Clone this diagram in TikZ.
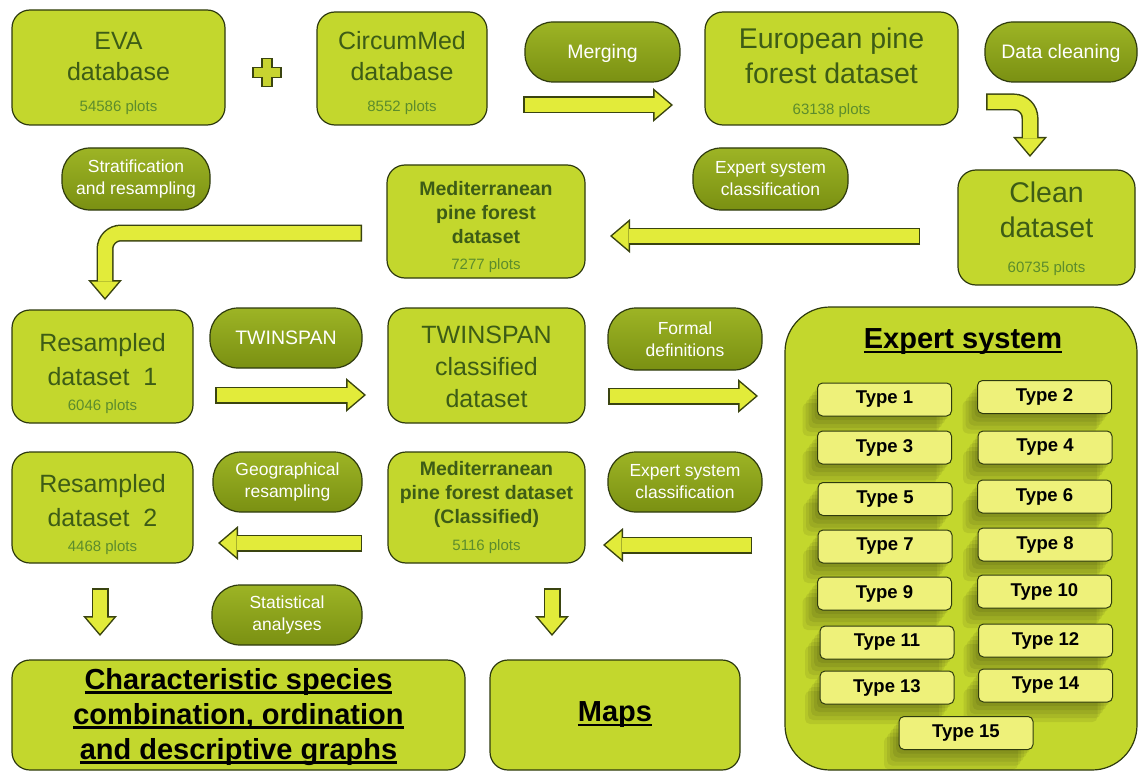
\documentclass[tikz,border=0pt]{standalone}
\usepackage{fontspec}
\setmainfont{Liberation Sans}
\usetikzlibrary{arrows.meta}
\definecolor{boxfill}{HTML}{C3D72D}
\definecolor{boxedge}{HTML}{2E3A0E}
\definecolor{pilltop}{HTML}{9DB425}
\definecolor{pillbot}{HTML}{7A9012}
\definecolor{arrowfill}{HTML}{E2EB3A}
\definecolor{arrowedge}{HTML}{3A4410}
\definecolor{typefill}{HTML}{EEF17A}
\definecolor{textgreen}{HTML}{3D5C16}
\definecolor{plotgreen}{HTML}{5C8C2C}
\newcommand{\BOXBIG}{\fontsize{25}{31}\selectfont}
\newcommand{\BOXTALL}{\fontsize{25}{34}\selectfont}
\newcommand{\BOXHUGE}{\fontsize{28.5}{35}\selectfont}
\newcommand{\BOXBOLD}{\fontsize{19.5}{24}\selectfont\bfseries}
\newcommand{\PILLBIG}{\fontsize{19.5}{22}\selectfont}
\newcommand{\PILLSMALL}{\fontsize{17.5}{22}\selectfont}
\newcommand{\TYPEFONT}{\fontsize{18.5}{22}\selectfont\bfseries}
\newcommand{\TITLEFONT}{\fontsize{29}{35}\selectfont\bfseries}
\newcommand{\PLOTS}[1]{{\fontsize{15}{18}\selectfont\mdseries\color{plotgreen}#1}}
\newcommand{\TOPGAP}[1]{\rule{0pt}{\dimexpr\fontcharht\font`E+#1\relax}}
\newsavebox{\ULBOX}
\newcommand{\ULINE}[1]{\sbox{\ULBOX}{#1}\rlap{\rule[-4.5pt]{\wd\ULBOX}{2.5pt}}\usebox{\ULBOX}}
\newcommand{\BLOCKARROW}[1]{
  \draw[arrowout] #1;
  \draw[arrowin] #1;
}
\tikzset{
  databox/.style={draw=boxedge, line width=1.2pt, fill=boxfill, rounded corners=18pt,
    align=center, text=textgreen, inner sep=0pt},
  pill/.style={draw=boxedge, line width=1.2pt, top color=pilltop, bottom color=pillbot,
    rounded corners=28pt, align=center, text=white, inner sep=0pt,
    minimum height=60pt},
  softshadow/.style={
    preaction={fill=black, opacity=0.07, transform canvas={xshift=-3pt,yshift=-4pt}},
    preaction={fill=black, opacity=0.07, transform canvas={xshift=-6pt,yshift=-8pt}},
    preaction={fill=black, opacity=0.07, transform canvas={xshift=-9pt,yshift=-12pt}},
    preaction={fill=black, opacity=0.07, transform canvas={xshift=-12pt,yshift=-16pt}},
    preaction={fill=black, opacity=0.07, transform canvas={xshift=-15pt,yshift=-20pt}}},
  typebox/.style={draw=boxedge, line width=1pt, fill=typefill, rounded corners=5pt,
    minimum width=134pt, minimum height=33pt, font=\TYPEFONT, inner sep=0pt, softshadow},
  arrowout/.style={line width=17pt, draw=arrowedge, rounded corners=16pt,
    -{Triangle[length=20pt,width=34pt,line width=0pt]}},
  arrowin/.style={line width=14pt, draw=arrowfill, rounded corners=16pt,
    shorten <=1.5pt, shorten >=2.3pt, -{Triangle[length=16.2pt,width=27.5pt,line width=0pt]}}
}
\begin{document}
\begin{tikzpicture}[x=1pt,y=-1pt]
  \useasboundingbox (0,0) rectangle (1138,773);

  \node[databox, minimum width=213pt, minimum height=115pt, font=\BOXBIG] (eva) at (118.5,67.5)
    {\TOPGAP{12pt}EVA\\database\\ \PLOTS{54586 plots}};
  \node[databox, minimum width=170pt, minimum height=113pt, font=\BOXBIG] (circum) at (402,68.5)
    {\TOPGAP{10pt}CircumMed\\database\\ \PLOTS{8552 plots}};
  \node[databox, minimum width=253pt, minimum height=113pt, font=\BOXHUGE] (european) at (831.5,68.5)
    {\TOPGAP{9pt}European pine\\forest dataset\\[-4pt]\PLOTS{63138 plots}};
  \node[databox, minimum width=177pt, minimum height=115pt, font=\BOXHUGE] (clean) at (1046.5,227.5)
    {\TOPGAP{4pt}Clean\\dataset\\ \PLOTS{60735 plots}};
  \node[databox, minimum width=198pt, minimum height=113pt, font=\BOXBOLD] (medit) at (486,221.5)
    {\TOPGAP{12pt}Mediterranean\\pine forest\\dataset\\[2.5pt]\PLOTS{7277 plots}};
  \node[databox, minimum width=181pt, minimum height=113pt, font=\BOXTALL] (resampled1) at (102.5,366.5)
    {\TOPGAP{14pt}Resampled\\dataset\ \ 1\\[-9pt]\PLOTS{6046 plots}};
  \node[databox, minimum width=197pt, minimum height=115pt, font=\fontsize{25}{32}\selectfont] (twinclass) at (486.5,365.5)
    {\TOPGAP{4pt}TWINSPAN\\classified\\dataset};
  \node[databox, minimum width=181pt, minimum height=111pt, font=\BOXTALL] (resampled2) at (102.5,507.5)
    {\TOPGAP{14pt}Resampled\\dataset\ \ 2\\[-9pt]\PLOTS{4468 plots}};
  \node[databox, minimum width=197pt, minimum height=111pt, font=\BOXBOLD] (meditclass) at (486.5,507.5)
    {Mediterranean\\pine forest dataset\\(Classified)\\[3pt]\PLOTS{5116 plots}};
  \node[databox, minimum width=453pt, minimum height=110pt, font=\TITLEFONT, text=black] (species) at (238.5,715)
    {\TOPGAP{5pt}\ULINE{Characteristic species}\\\ULINE{combination, ordination}\\\ULINE{and descriptive graphs}};
  \node[databox, minimum width=250pt, minimum height=110pt, font=\TITLEFONT, text=black] (maps) at (615,715)
    {\ULINE{Maps}};

  \node[pill, minimum width=155pt, font=\PILLBIG] (merging) at (602.5,52) {\TOPGAP{4pt}Merging};
  \node[pill, minimum width=152pt, font=\PILLBIG] (cleaning) at (1061,52) {\TOPGAP{4pt}Data cleaning};
  \node[pill, minimum width=148pt, minimum height=62pt, font=\PILLSMALL] (stratif) at (136,179)
    {Stratification\\and resampling};
  \node[pill, minimum width=155pt, minimum height=62pt, font=\PILLSMALL] (expclass1) at (770.5,179)
    {Expert system\\classification};
  \node[pill, minimum width=152pt, font=\PILLBIG] (twinspan) at (286,338) {TWINSPAN};
  \node[pill, minimum width=154pt, minimum height=62pt, font=\PILLSMALL] (formal) at (685,339)
    {Formal\\definitions};
  \node[pill, minimum width=149pt, font=\PILLSMALL] (geores) at (287.5,482)
    {Geographical\\resampling};
  \node[pill, minimum width=154pt, font=\PILLSMALL] (expclass2) at (685,482)
    {Expert system\\classification};
  \node[pill, minimum width=150pt, font=\PILLSMALL] (statan) at (287,615)
    {Statistical\\analyses};

  \draw[arrowedge, line width=1.2pt, fill=arrowfill!75!pillbot]
    (262,58.5) -- (272,58.5) -- (272,67.5) -- (281,67.5) -- (281,77.5) -- (272,77.5)
    -- (272,86.5) -- (262,86.5) -- (262,77.5) -- (253,77.5) -- (253,67.5) -- (262,67.5) -- cycle;

  \node[databox, rounded corners=45pt, minimum width=352pt, minimum height=463pt] (expert) at (961,538.5) {};
  \node[font=\TITLEFONT] (experttitle) at (963,342) {\ULINE{Expert system}};
  \node[typebox] (type1) at (884.5,399.5) {Type 1};
  \node[typebox] (type2) at (1044.5,397) {Type 2};
  \node[typebox] (type3) at (884.5,447.5) {Type 3};
  \node[typebox] (type4) at (1045,447.5) {Type 4};
  \node[typebox] (type5) at (885,499) {Type 5};
  \node[typebox] (type6) at (1044.5,496.5) {Type 6};
  \node[typebox] (type7) at (885,546.5) {Type 7};
  \node[typebox] (type8) at (1045,544.5) {Type 8};
  \node[typebox] (type9) at (884.5,593.5) {Type 9};
  \node[typebox] (type10) at (1044.5,591.5) {Type 10};
  \node[typebox] (type11) at (887,642.5) {Type 11};
  \node[typebox] (type12) at (1045.5,640.5) {Type 12};
  \node[typebox] (type13) at (887,687.5) {Type 13};
  \node[typebox] (type14) at (1045.5,685.5) {Type 14};
  \node[typebox] (type15) at (966,733) {Type 15};

  \coordinate (mergetail) at (523,105);
  \coordinate (mergehead) at (673,105);
  \coordinate (cleantail) at (986,102);
  \coordinate (cleanbend) at (1030,102);
  \coordinate (cleanhead) at (1030,157);
  \coordinate (classtail) at (920,236);
  \coordinate (classhead) at (610,236);
  \coordinate (strattail) at (362,233);
  \coordinate (stratbend) at (105,233);
  \coordinate (strathead) at (105,300);
  \coordinate (twintail) at (215,395);
  \coordinate (twinhead) at (366,395);
  \coordinate (formaltail) at (608,396);
  \coordinate (formalhead) at (758,396);
  \coordinate (geotail) at (362,543);
  \coordinate (geohead) at (218,543);
  \coordinate (reclasstail) at (752,545);
  \coordinate (reclasshead) at (603,545);
  \coordinate (stattail) at (100,588);
  \coordinate (stathead) at (100,636);
  \coordinate (maptail) at (552,588);
  \coordinate (maphead) at (552,636);

  \BLOCKARROW{(mergetail) -- (mergehead)}
  \BLOCKARROW{(cleantail) -- (cleanbend) -- (cleanhead)}
  \BLOCKARROW{(classtail) -- (classhead)}
  \BLOCKARROW{(strattail) -- (stratbend) -- (strathead)}
  \BLOCKARROW{(twintail) -- (twinhead)}
  \BLOCKARROW{(formaltail) -- (formalhead)}
  \BLOCKARROW{(geotail) -- (geohead)}
  \BLOCKARROW{(reclasstail) -- (reclasshead)}
  \BLOCKARROW{(stattail) -- (stathead)}
  \BLOCKARROW{(maptail) -- (maphead)}
\end{tikzpicture}
\end{document}
